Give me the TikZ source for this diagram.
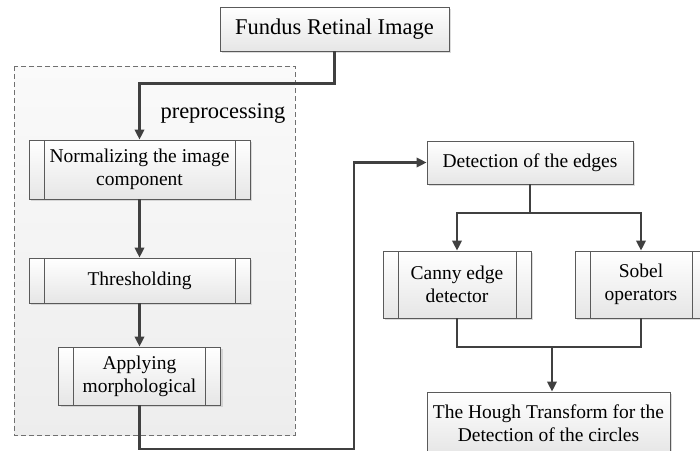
\documentclass[tikz,border=0pt]{standalone}
\usepackage{fontspec}
\setmainfont{Liberation Serif}
\usetikzlibrary{arrows.meta,shadows,calc}

\definecolor{linegray}{HTML}{404040}
\definecolor{boxedge}{HTML}{5A5A5A}
\definecolor{boxtop}{HTML}{FFFFFF}
\definecolor{boxbottom}{HTML}{E6E6E6}
\definecolor{groupedge}{HTML}{707070}

\tikzset{
  basebox/.style={
    rectangle, draw=boxedge, line width=0.9pt,
    top color=boxtop, bottom color=boxbottom,
    drop shadow={shadow xshift=2pt, shadow yshift=-2pt, fill=black!30, opacity=0.45},
    align=center, inner sep=0pt,
    font=\fontsize{19.5}{23}\selectfont
  },
  procbox/.style={
    basebox,
    path picture={
      \draw[boxedge, line width=0.9pt]
        ([xshift=15pt]path picture bounding box.north west) --
        ([xshift=15pt]path picture bounding box.south west);
      \draw[boxedge, line width=0.9pt]
        ([xshift=-15pt]path picture bounding box.north east) --
        ([xshift=-15pt]path picture bounding box.south east);
    }
  },
  link/.style={draw=linegray, line width=2.1pt},
  arr/.style={link, -{Triangle[length=10pt,width=9.5pt]}},
}

\begin{document}
\begin{tikzpicture}[x=1pt,y=-1pt]
  \useasboundingbox (0,0) rectangle (700,450);

  % preprocessing group
  \path[draw=groupedge, line width=0.9pt, dash pattern=on 5pt off 3pt,
        top color=white!98!black, bottom color=black!7]
    (14,66) rectangle (295,435);
  \node[anchor=base east, font=\fontsize{22.5}{26}\selectfont] (prelabel)
    at (289,118) {preprocessing};

  % boxes
  \node[basebox, minimum width=229pt, minimum height=44pt,
        font=\fontsize{22.5}{26}\selectfont] (fundus) at (334.5,29)
    {Fundus Retinal Image};
  \node[procbox, minimum width=221pt, minimum height=59pt] (norm) at (139.5,169.5)
    {Normalizing the image\\component};
  \node[procbox, minimum width=221pt, minimum height=45pt] (thresh) at (139.5,280.5)
    {Thresholding};
  \node[procbox, minimum width=162pt, minimum height=58pt] (morph) at (139.5,376)
    {Applying\\morphological};
  \node[basebox, minimum width=206pt, minimum height=43pt] (detect) at (530,162.5)
    {Detection of the edges};
  \node[procbox, minimum width=148pt, minimum height=67pt] (canny) at (457,284.5)
    {Canny edge\\detector};
  \node[procbox, minimum width=132pt, minimum height=67pt] (sobel) at (641,284.5)
    {Sobel\\operators};
  \node[basebox, minimum width=243pt, minimum height=62pt] (hough) at (548.5,423)
    {The Hough Transform for the\\Detection of the circles};

  % routing points
  \coordinate (turnA) at (354,449);
  \coordinate (split) at (530,213);
  \coordinate (join) at (552,347);

  % connectors
  \draw[arr] (fundus.south) -- ++(0,32) -| (norm.north);
  \draw[arr] (norm.south) -- (thresh.north);
  \draw[arr] (thresh.south) -- (morph.north);
  \draw[arr] (morph.south) |- (turnA) |- (detect.west);
  \draw[link] (detect.south) -- (split);
  \draw[arr] (split) -| (canny.north);
  \draw[arr] (split) -| (sobel.north);
  \draw[link] (canny.south) |- (join) -| (sobel.south);
  \draw[arr] (join) -- (join |- hough.north);
\end{tikzpicture}
\end{document}
